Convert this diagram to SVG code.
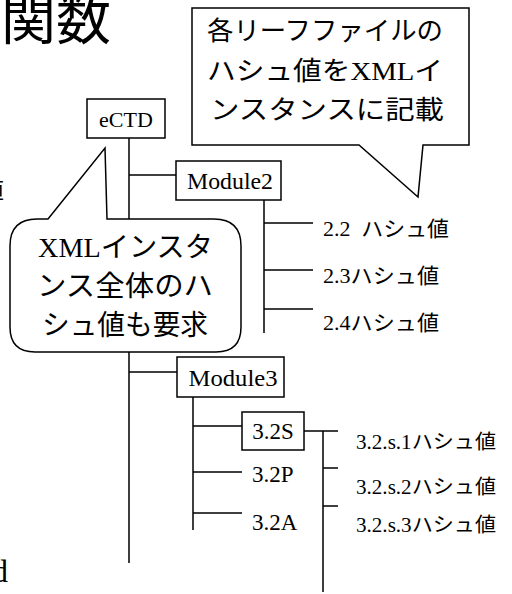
<svg xmlns="http://www.w3.org/2000/svg" width="512" height="594" viewBox="0 0 512 594">
<style>
.ln{stroke:#000;stroke-width:1.5;fill:none}
.box{fill:#fff;stroke:#000;stroke-width:1.5}
.co{fill:#fff;stroke:#000;stroke-width:1.5;stroke-linejoin:miter}
.t{font-family:"Liberation Serif","Noto Sans CJK JP",serif;fill:#000}
.g{font-family:"Noto Sans CJK JP","Noto Sans",sans-serif;fill:#000}
</style>
<rect width="512" height="594" fill="#fff"/>
<text class="g" x="1" y="39" font-size="55" font-weight="400">関数</text>
<text class="t" x="-20" y="199" font-size="24">値</text>
<text class="t" x="-8" y="582" font-size="32">d</text>
<g id="connectors">
<path class="ln" d="M129,138 V563 M129,175 H176 M129,372 H177"/>
<path class="ln" d="M264,200 V333 M264,223 H313 M264,270 H313 M264,309 H313"/>
<path class="ln" d="M193,397 V530 M193,426 H242 M193,472 H242 M193,513 H242"/>
<path class="ln" d="M304,431 H338 M323,431 V592 M323,468 H338 M323,506 H338"/>
</g>
<g id="eCTD"><rect class="box" x="87" y="99" width="78" height="39"/><text class="t" x="126" y="127" font-size="22" text-anchor="middle">eCTD</text></g>
<g id="module2"><rect class="box" x="176" y="161" width="105" height="39"/><text class="t" x="230" y="189" font-size="23" text-anchor="middle" textLength="86" lengthAdjust="spacingAndGlyphs">Module2</text></g>
<g id="module3"><rect class="box" x="177" y="357" width="107" height="40"/><text class="t" x="233" y="386" font-size="23" text-anchor="middle" textLength="89" lengthAdjust="spacingAndGlyphs">Module3</text></g>
<g id="s32S"><rect class="box" x="242" y="412" width="62" height="38"/><text class="t" x="273" y="439" font-size="23" text-anchor="middle">3.2S</text></g>
<g id="s32P"><text class="t" x="252" y="482" font-size="23">3.2P</text></g>
<g id="s32A"><text class="t" x="252" y="530" font-size="23">3.2A</text></g>
<g id="h22"><text class="t" x="323" y="236" font-size="21" textLength="126" lengthAdjust="spacingAndGlyphs" xml:space="preserve">2.2  ハシュ値</text></g>
<g id="h23"><text class="t" x="323" y="283" font-size="21" textLength="116" lengthAdjust="spacingAndGlyphs">2.3ハシュ値</text></g>
<g id="h24"><text class="t" x="323" y="330" font-size="21" textLength="116" lengthAdjust="spacingAndGlyphs">2.4ハシュ値</text></g>
<g id="h321"><text class="t" x="356" y="449" font-size="20" textLength="140" lengthAdjust="spacingAndGlyphs">3.2.s.1ハシュ値</text></g>
<g id="h322"><text class="t" x="356" y="494" font-size="20" textLength="140" lengthAdjust="spacingAndGlyphs">3.2.s.2ハシュ値</text></g>
<g id="h323"><text class="t" x="356" y="532" font-size="20" textLength="140" lengthAdjust="spacingAndGlyphs">3.2.s.3ハシュ値</text></g>
<g id="callout-top">
<path class="co" d="M192,8 H469 V145 H423 L418,197 L359,145 H192 Z"/>
<text class="t" x="207" y="40" font-size="26" textLength="236" lengthAdjust="spacingAndGlyphs">各リーフファイルの</text>
<text class="t" x="207" y="80" font-size="26" textLength="236" lengthAdjust="spacingAndGlyphs">ハシュ値をXMLイ</text>
<text class="t" x="210" y="119" font-size="26" textLength="234" lengthAdjust="spacingAndGlyphs">ンスタンスに記載</text>
</g>
<g id="callout-left">
<path class="co" d="M48,219 L105,148 L107,219 H214 Q241,219 241,246 V327 Q241,352 216,352 H35 Q10,352 10,327 V246 Q10,219 37,219 Z"/>
<text class="t" x="38" y="257" font-size="28" textLength="175" lengthAdjust="spacingAndGlyphs">XMLインスタ</text>
<text class="t" x="37" y="296" font-size="28" textLength="176" lengthAdjust="spacingAndGlyphs">ンス全体のハ</text>
<text class="t" x="42" y="335" font-size="28" textLength="166" lengthAdjust="spacingAndGlyphs">シュ値も要求</text>
</g>
</svg>
